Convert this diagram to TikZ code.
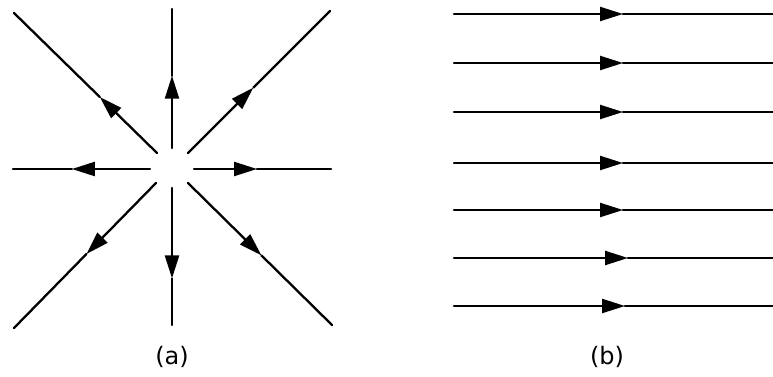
\documentclass[tikz,border=0pt]{standalone}
\usepackage{fontspec}
\setmainfont{DejaVu Sans}
\usetikzlibrary{arrows.meta,calc}
\begin{document}
\begin{tikzpicture}[x=1pt,y=-1pt,
  fline/.style={line width=2.3pt,line cap=round},
  farrow/.style={fline,-{Triangle[length=23pt,width=14pt]}},
  lbl/.style={font=\fontsize{24}{28}\selectfont,inner sep=0pt}]
\useasboundingbox (0,0) rectangle (773,377);
% panel (a)
\foreach \n/\ix/\iy/\f/\ox/\oy in {
  L/150/169/0.57/13/169,
  R/194/169/0.46/331/169,
  U/172/148/0.52/172/9,
  D/172/188/0.66/172/325,
  UL/157/153/0.40/14/13,
  UR/188/153/0.46/330/11,
  DL/156/183/0.49/14/328,
  DR/188/183/0.51/332/325}{
  \coordinate (in\n) at (\ix,\iy);
  \coordinate (out\n) at (\ox,\oy);
  \coordinate (tip\n) at ($(in\n)!\f!(out\n)$);
  \draw[farrow] (in\n) -- (tip\n);
  \draw[fline] (tip\n) -- (out\n);
}
\node[lbl] (la) at (172,357) {(a)};
% panel (b)
\foreach \k/\y/\t in {1/14/623,2/63/623,3/112/623,4/163/623,5/210/623,6/258/628,7/306/625}{
  \coordinate (s\k) at (454,\y);
  \coordinate (t\k) at (\t,\y);
  \coordinate (e\k) at (773,\y);
  \draw[farrow] (s\k) -- (t\k);
  \draw[fline] (t\k) -- (e\k);
}
\node[lbl] (lb) at (607,357) {(b)};
\end{tikzpicture}
\end{document}
